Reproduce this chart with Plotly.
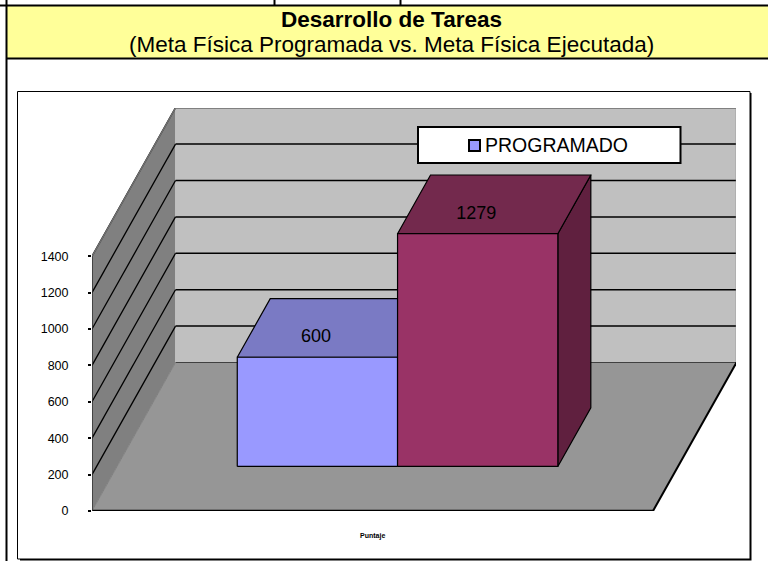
import plotly.graph_objects as go

# ---- data ----
series_names = ["PROGRAMADO", "EJECUTADO"]
series_values = [600, 1279]
tick_values = [0, 200, 400, 600, 800, 1000, 1200, 1400]
title_main = "Desarrollo de Tareas"
title_sub = "(Meta Física Programada vs. Meta Física Ejecutada)"
axis_title = "Puntaje"

# ---- layout constants ----
W, H = 768, 561
L, R, T, B = 92.0, 736.0, 108.0, 511.0       # plot area in pixels
PX_PER_VALUE = 36.4 / 200
FRONT_WIDTH = 561.0                          # px for 1 x-unit on the front edge
DEPTH_PX = (83.5, 148.5)
DEPTH_X = DEPTH_PX[0] / FRONT_WIDTH          # x-units for full depth
DEPTH_Y = DEPTH_PX[1] / PX_PER_VALUE         # value units for full depth
GAP = 1.5                                    # total gap, in bar widths
BAR_W = 1 / (2 + GAP)
X_MAX = (R - L) / FRONT_WIDTH
Y_MAX = (B - T) / PX_PER_VALUE
BAR_D0, BAR_D1 = 0.30, 0.695
LABEL_D, LABEL_SHIFT = 0.43, 0.022


def proj(x, v, d):
    """Oblique projection: x-unit, value, depth (0 front .. 1 back)."""
    return x + DEPTH_X * d, v + DEPTH_Y * d


def poly(points, fill, line="rgba(0,0,0,0)", width=0, name=""):
    xs, ys = zip(*[proj(*p) for p in points + points[:1]])
    return go.Scatter(x=xs, y=ys, mode="lines", fill="toself", fillcolor=fill,
                      line=dict(color=line, width=width), hoverinfo="skip",
                      showlegend=False, name=name, cliponaxis=False)


def seg(p0, p1, color="#000000", width=1.5):
    a, b = proj(*p0), proj(*p1)
    return go.Scatter(x=[a[0], b[0]], y=[a[1], b[1]], mode="lines",
                      line=dict(color=color, width=width), hoverinfo="skip",
                      showlegend=False, cliponaxis=False)


fig = go.Figure()
wall_top = Y_MAX - DEPTH_Y       # wall height so that the back top reaches T

# Walls and floor
fig.add_trace(poly([(0, 0, 0), (0, wall_top, 0), (0, wall_top, 1), (0, 0, 1)], "#808080"))
fig.add_trace(poly([(0, 0, 1), (0, wall_top, 1), (1, wall_top, 1), (1, 0, 1)], "#C0C0C0"))
fig.add_trace(poly([(0, 0, 0), (1, 0, 0), (1, 0, 1), (0, 0, 1)], "#969696"))

# Gridlines on both walls
for v in tick_values[1:]:
    fig.add_trace(seg((0, v, 0), (0, v, 1), width=1.3))
    fig.add_trace(seg((0, v, 1), (1, v, 1), width=1.5))
fig.add_trace(seg((0, wall_top, 0), (0, wall_top, 1), "#707070", 1.5))
fig.add_trace(seg((0, wall_top, 1), (1, wall_top, 1), "#808080", 2))
fig.add_trace(seg((1, wall_top, 1), (1, 0, 1), "#808080", 1.5))
fig.add_trace(seg((0, 0, 1), (1, 0, 1), "#404040", 1))
fig.add_trace(seg((0, 0, 0), (0, 0, 1), "#808080", 1))
fig.add_trace(seg((1, 0, 0), (1, 0, 1), "#000000", 2))
fig.add_trace(seg((0, 0, 0), (1, 0, 0), "#000000", 2.5))
fig.add_trace(seg((0, 0, 0), (0, tick_values[-1], 0), "#303030", 1.5))

# Bars
colors = [("#9999FF", "#7A7AC4", "#5C5C99"), ("#993366", "#73294D", "#60203F")]
for i, (val, (front, top_c, side)) in enumerate(zip(series_values, colors)):
    x0 = GAP / 2 * BAR_W + i * BAR_W
    x1 = x0 + BAR_W
    kw = dict(line="#000000", width=1.2)
    fig.add_trace(poly([(x1, 0, BAR_D0), (x1, val, BAR_D0), (x1, val, BAR_D1), (x1, 0, BAR_D1)], side, **kw))
    fig.add_trace(poly([(x0, val, BAR_D0), (x1, val, BAR_D0), (x1, val, BAR_D1), (x0, val, BAR_D1)], top_c, **kw))
    fig.add_trace(poly([(x0, 0, BAR_D0), (x1, 0, BAR_D0), (x1, val, BAR_D0), (x0, val, BAR_D0)], front,
                       name=series_names[i], **kw))
    lx, ly = proj((x0 + x1) / 2 - LABEL_SHIFT, val, LABEL_D)
    fig.add_trace(go.Scatter(x=[lx], y=[ly], mode="text", text=[str(val)], textposition="middle center",
                             textfont=dict(family="Liberation Sans", size=18, color="#000000"),
                             hoverinfo="skip", showlegend=False, cliponaxis=False))


def xp(p):
    return (p - L) / (R - L)


def yp(p):
    return (B - p) / (B - T)


def rect(x0, y0, x1, y1, layer="below", **kw):
    return dict(type="rect", xref="paper", yref="paper", x0=xp(x0), x1=xp(x1), y0=yp(y0), y1=yp(y1),
                layer=layer, **kw)


def line(x0, y0, x1, y1, color="#000000", width=2, layer="below"):
    return dict(type="line", xref="paper", yref="paper", x0=xp(x0), x1=xp(x1), y0=yp(y0), y1=yp(y1),
                layer=layer, line=dict(color=color, width=width))


shapes = [
    rect(6, 6, 768, 58, fillcolor="#FFFF99", line=dict(width=0)),
    line(0, 5.5, 768, 5.5), line(6, 58.5, 768, 58.5),
    line(6.5, 0, 6.5, 561), line(274.5, 0, 274.5, 5), line(400.5, 0, 400.5, 5),
    # chart frame with its drop shadow
    rect(20, 93, 751.5, 560.5, fillcolor="#000000", line=dict(width=0)),
    rect(17.5, 91.5, 750, 559, fillcolor="#FFFFFF", line=dict(color="#000000", width=1)),
    # legend box
    rect(418, 127, 680.5, 163, layer="above", fillcolor="#FFFFFF", line=dict(color="#000000", width=2)),
    rect(469, 140, 480, 151, layer="above", fillcolor="#9999FF", line=dict(color="#000000", width=2)),
]


def note(text, x, y, size, bold=False, anchor="center", color="#000000", family="Liberation Sans"):
    t = f"<b>{text}</b>" if bold else text
    return dict(text=t, xref="paper", yref="paper", x=xp(x), y=yp(y), xanchor=anchor, yanchor="middle",
                showarrow=False, font=dict(family=family, size=size, color=color))


annotations = [
    note(title_main, 391, 20, 22.5, bold=True),
    note(title_sub, 391, 45, 22.5),
    note(series_names[0], 483, 144.5, 19.5, anchor="left"),
    note(axis_title, 372, 536, 7, bold=True),
]

fig.update_layout(
    width=W, height=H, autosize=False,
    margin=dict(l=L, r=W - R, t=T, b=H - B, pad=0),
    paper_bgcolor="#FFFFFF", plot_bgcolor="rgba(0,0,0,0)",
    showlegend=False, shapes=shapes, annotations=annotations,
    xaxis=dict(range=[0, X_MAX], visible=False, fixedrange=True),
    yaxis=dict(range=[0, Y_MAX], tickmode="array", tickvals=tick_values,
               ticktext=[str(v) for v in tick_values],
               ticks="outside", ticklen=3, tickwidth=2, tickcolor="#000000",
               ticklabelstandoff=17, showgrid=False, zeroline=False, showline=False,
               tickfont=dict(family="Liberation Sans", size=12.5, color="#000000"),
               fixedrange=True),
)
fig.write_html("out.html", config=dict(displayModeBar=False),
               post_script="document.body.style.margin='0';document.documentElement.style.overflow='hidden';")
